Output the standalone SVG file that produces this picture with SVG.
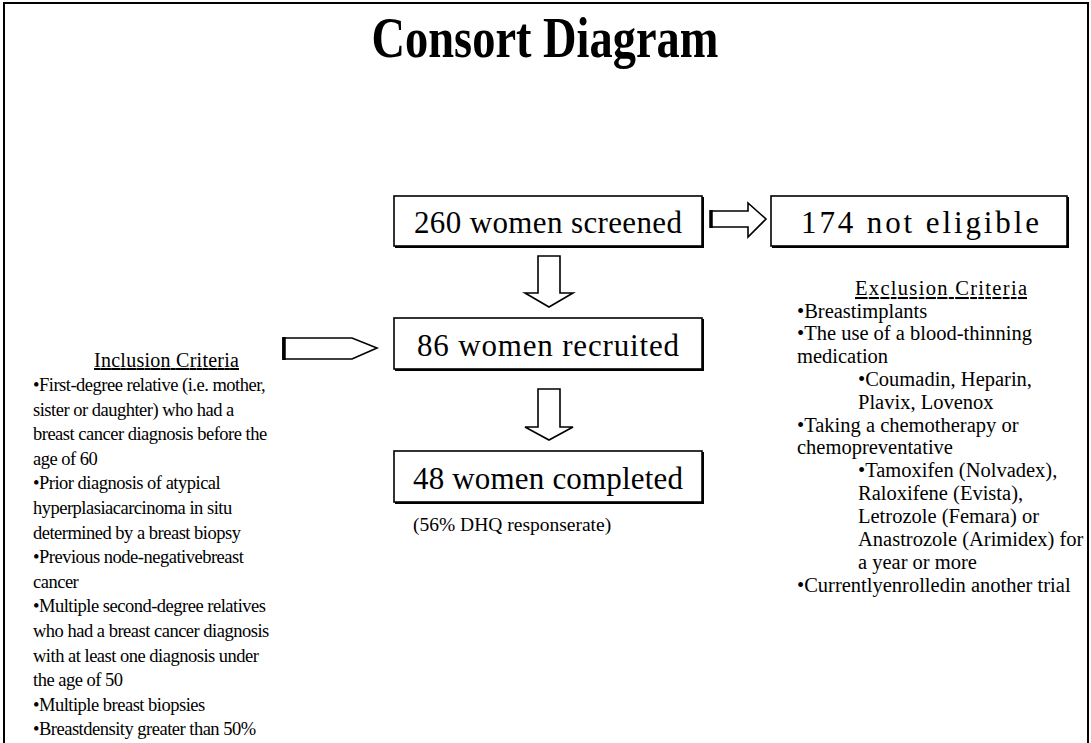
<svg xmlns="http://www.w3.org/2000/svg" width="1091" height="743" viewBox="0 0 1091 743">
<style>
text{font-family:"Liberation Serif","Times New Roman",serif;fill:#000}
.title{font-size:56px;font-weight:bold}
.box{fill:#fff;stroke:#000;stroke-width:1.6}
.shadow{fill:none;stroke:#000;stroke-width:2}
.bt{font-size:31px}
.arrow{fill:#fff;stroke:#000;stroke-width:1.6;stroke-linejoin:miter}
.thick{stroke:#000;stroke-width:3.5}
.lt{font-size:18.5px;letter-spacing:-0.5px}
.rt{font-size:20.5px}
.hd{text-decoration:underline}
</style>
<rect x="4" y="3" width="1084" height="800" fill="#fff" stroke="#000" stroke-width="2"/>
<text class="title" x="545" y="57" text-anchor="middle" textLength="347" lengthAdjust="spacingAndGlyphs">Consort Diagram</text>

<g id="connectors">
  <g id="arrow-screened-noteligible">
    <polygon class="arrow" points="711,211 748,211 748,203 766,219 748,237 748,227 711,227"/>
    <line class="thick" x1="711" y1="210" x2="711" y2="228"/>
  </g>
  <g id="arrow-screened-recruited">
    <polygon class="arrow" points="538,256 560,256 560,293 573,293 549,307 525,293 538,293"/>
  </g>
  <g id="arrow-recruited-completed">
    <polygon class="arrow" points="538,389 560,389 560,427 573,427 549,440 525,427 538,427"/>
  </g>
  <g id="arrow-inclusion-recruited">
    <polygon class="arrow" points="283,338 352,338 377,348 352,359 283,359"/>
    <line class="thick" x1="284" y1="337" x2="284" y2="360"/>
  </g>
</g>

<g id="node-screened">
  <rect class="box" x="394" y="196" width="308" height="50"/>
  <polyline class="shadow" points="703,197 703,247 395,247"/>
  <text class="bt" x="548" y="233" text-anchor="middle" textLength="268" lengthAdjust="spacing">260 women screened</text>
</g>
<g id="node-noteligible">
  <rect class="box" x="771" y="196" width="296" height="50"/>
  <polyline class="shadow" points="1068,197 1068,247 772,247"/>
  <text class="bt" x="920" y="233" text-anchor="middle" textLength="238" lengthAdjust="spacing">174 not eligible</text>
</g>
<g id="node-recruited">
  <rect class="box" x="394" y="318" width="308" height="51"/>
  <polyline class="shadow" points="703,319 703,370 395,370"/>
  <text class="bt" x="548" y="356" text-anchor="middle" textLength="262" lengthAdjust="spacing">86 women recruited</text>
</g>
<g id="node-completed">
  <rect class="box" x="394" y="451" width="308" height="51"/>
  <polyline class="shadow" points="703,452 703,503 395,503"/>
  <text class="bt" x="548" y="489" text-anchor="middle" textLength="270" lengthAdjust="spacing">48 women completed</text>
</g>
<text id="response-rate" x="413" y="531" font-size="19.5">(56% DHQ responserate)</text>

<g id="node-inclusion">
  <text class="hd" x="94" y="367" font-size="20" textLength="145" lengthAdjust="spacing">Inclusion Criteria</text>
  <text class="lt" x="33" y="391">•First-degree relative (i.e. mother,</text>
  <text class="lt" x="33" y="415.6">sister or daughter) who had a</text>
  <text class="lt" x="33" y="440.2">breast cancer diagnosis before the</text>
  <text class="lt" x="33" y="464.8">age of 60</text>
  <text class="lt" x="33" y="489.4">•Prior diagnosis of atypical</text>
  <text class="lt" x="33" y="514">hyperplasiacarcinoma in situ</text>
  <text class="lt" x="33" y="538.6">determined by a breast biopsy</text>
  <text class="lt" x="33" y="563.2">•Previous node-negativebreast</text>
  <text class="lt" x="33" y="587.8">cancer</text>
  <text class="lt" x="33" y="612.4">•Multiple second-degree relatives</text>
  <text class="lt" x="33" y="637">who had a breast cancer diagnosis</text>
  <text class="lt" x="33" y="661.6">with at least one diagnosis under</text>
  <text class="lt" x="33" y="686.2">the age of 50</text>
  <text class="lt" x="33" y="710.8">•Multiple breast biopsies</text>
  <text class="lt" x="33" y="735.4">•Breastdensity greater than 50%</text>
</g>

<g id="node-exclusion">
  <text class="hd" x="855" y="295" font-size="20.5" textLength="172" lengthAdjust="spacing">Exclusion Criteria</text>
  <text class="rt" x="797" y="318">•Breastimplants</text>
  <text class="rt" x="797" y="340">•The use of a blood-thinning</text>
  <text class="rt" x="797" y="363">medication</text>
  <text class="rt" x="858" y="386">•Coumadin, Heparin,</text>
  <text class="rt" x="858" y="409">Plavix, Lovenox</text>
  <text class="rt" x="797" y="432">•Taking a chemotherapy or</text>
  <text class="rt" x="797" y="454">chemopreventative</text>
  <text class="rt" x="858" y="477">•Tamoxifen (Nolvadex),</text>
  <text class="rt" x="858" y="500">Raloxifene (Evista),</text>
  <text class="rt" x="858" y="523">Letrozole (Femara) or</text>
  <text class="rt" x="858" y="546">Anastrozole (Arimidex) for</text>
  <text class="rt" x="858" y="569">a year or more</text>
  <text class="rt" x="797" y="592">•Currentlyenrolledin another trial</text>
</g>
</svg>
